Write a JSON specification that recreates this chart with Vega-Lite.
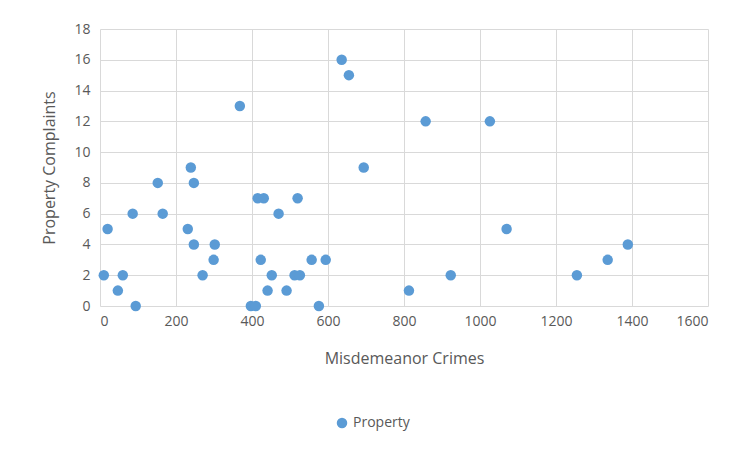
{
  "$schema": "https://vega.github.io/schema/vega-lite/v6.json",
  "autosize": "none",
  "width": 608,
  "height": 277,
  "padding": {"left": 100, "top": 29, "right": 45, "bottom": 155},
  "background": "white",
  "config": {
    "view": {"stroke": null},
    "font": "Open Sans",
    "axis": {"labelFont": "Open Sans", "titleFont": "Open Sans", "labelColor": "#595959", "titleColor": "#595959", "labelFontSize": 14, "titleFontSize": 16, "titleFontWeight": "normal", "gridColor": "#d9d9d9", "ticks": false, "domain": false}
  },
  "data": {
    "values": [
      {"crimes": 10, "complaints": 2}, {"crimes": 20, "complaints": 5}, {"crimes": 47, "complaints": 1},
      {"crimes": 60, "complaints": 2}, {"crimes": 86, "complaints": 6}, {"crimes": 94, "complaints": 0},
      {"crimes": 152, "complaints": 8}, {"crimes": 165, "complaints": 6}, {"crimes": 231, "complaints": 5},
      {"crimes": 239, "complaints": 9}, {"crimes": 247, "complaints": 8}, {"crimes": 247, "complaints": 4},
      {"crimes": 270, "complaints": 2}, {"crimes": 302, "complaints": 4}, {"crimes": 299, "complaints": 3},
      {"crimes": 368, "complaints": 13}, {"crimes": 397, "complaints": 0}, {"crimes": 410, "complaints": 0},
      {"crimes": 415, "complaints": 7}, {"crimes": 431, "complaints": 7}, {"crimes": 423, "complaints": 3},
      {"crimes": 441, "complaints": 1}, {"crimes": 452, "complaints": 2}, {"crimes": 470, "complaints": 6},
      {"crimes": 491, "complaints": 1}, {"crimes": 512, "complaints": 2}, {"crimes": 526, "complaints": 2},
      {"crimes": 520, "complaints": 7}, {"crimes": 557, "complaints": 3}, {"crimes": 576, "complaints": 0},
      {"crimes": 594, "complaints": 3}, {"crimes": 636, "complaints": 16}, {"crimes": 655, "complaints": 15},
      {"crimes": 694, "complaints": 9}, {"crimes": 813, "complaints": 1}, {"crimes": 857, "complaints": 12},
      {"crimes": 923, "complaints": 2}, {"crimes": 1026, "complaints": 12}, {"crimes": 1070, "complaints": 5},
      {"crimes": 1255, "complaints": 2}, {"crimes": 1336, "complaints": 3}, {"crimes": 1389, "complaints": 4}
    ]
  },
  "mark": {"type": "circle", "size": 110, "opacity": 1},
  "encoding": {
    "x": {"field": "crimes", "type": "quantitative", "title": "Misdemeanor Crimes", "scale": {"domain": [0, 1600], "nice": false}, "axis": {"tickCount": 8, "format": "d", "titlePadding": 22, "labelPadding": 8}},
    "y": {"field": "complaints", "type": "quantitative", "title": "Property Complaints", "scale": {"domain": [0, 18], "nice": false}, "axis": {"values": [0,2,4,6,8,10,12,14,16,18], "titlePadding": 16, "labelPadding": 10}},
    "color": {"datum": "Property", "type": "nominal", "scale": {"range": ["#5b9bd5"]},
      "legend": {"title": null, "orient": "none", "legendX": 235, "legendY": 387, "symbolType": "circle", "symbolSize": 110, "labelFontSize": 14, "labelColor": "#595959", "labelFont": "Open Sans"}}
  }
}
